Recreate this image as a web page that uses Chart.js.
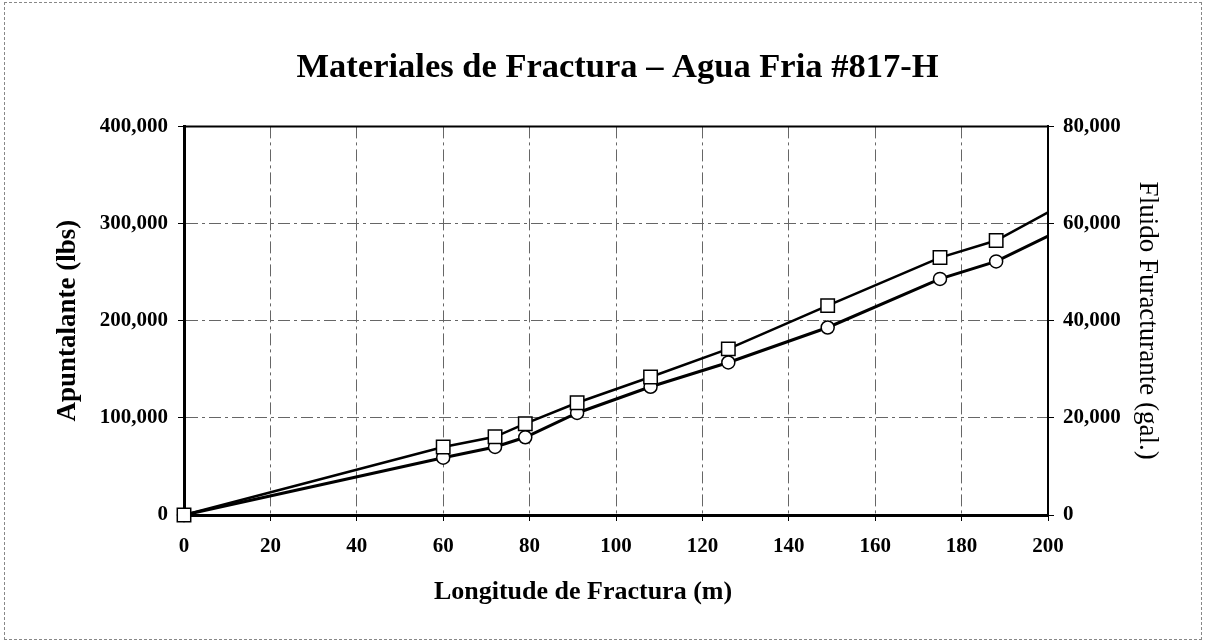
<!DOCTYPE html>
<html>
<head>
<meta charset="utf-8">
<title>Materiales de Fractura</title>
<script src="https://cdn.jsdelivr.net/npm/chart.js@4.4.1/dist/chart.umd.min.js"></script>
<style>
  body { margin: 0; background: #fff; }
  .wrap { position: relative; width: 1205px; height: 643px; }
  .frame {
    position: absolute; left: 4px; top: 2px; width: 1196px; height: 636px;
    border: 1px dashed #888; pointer-events: none;
  }
</style>
</head>
<body>
<div class="wrap">
  <canvas id="chart" width="1205" height="643"></canvas>
  <div class="frame"></div>
</div>
<script>
// Longitud de fractura (m)
const longitud = [0, 60, 72, 79, 91, 108, 126, 149, 175, 188, 200];
// Apuntalante (lbs) - circulos, eje izquierdo
const apuntalante = [0, 59000, 70000, 80000, 105000, 132000, 157000, 193000, 243000, 261000, 287000];
// Fluido fracturante (gal.) - cuadrados, eje derecho
const fluido = [0, 14000, 16100, 18800, 23100, 28400, 34200, 43100, 53000, 56500, 62300];

const xTicks = [0, 20, 40, 60, 80, 100, 120, 140, 160, 180, 200];
const leftTicks = [0, 100000, 200000, 300000, 400000];
const rightTicks = [0, 20000, 40000, 60000, 80000];

const serif = "'Liberation Serif', 'Times New Roman', serif";
const tickFont = { family: serif, size: 21, weight: "bold" };
const gridDash = [12, 4, 3, 4];

function toPoints(values) {
  return longitud.map((x, i) => ({ x: x, y: values[i] }));
}

// no marker on the last point (hidden at the right axis)
function radii(r) {
  return longitud.map((x, i) => (i === longitud.length - 1 ? 0 : r));
}

function innerGrid(ctx) {
  const v = ctx.tick ? ctx.tick.value : null;
  const s = ctx.scale;
  if (v === s.min || v === s.max) return "rgba(0,0,0,0)";
  return "#666";
}

const extras = {
  id: "extras",
  afterDraw(chart) {
    const { ctx, chartArea } = chart;
    ctx.save();
    // top frame of plot area
    ctx.strokeStyle = "#000";
    ctx.lineWidth = 2;
    ctx.beginPath();
    ctx.moveTo(chartArea.left, chartArea.top);
    ctx.lineTo(chartArea.right, chartArea.top);
    ctx.stroke();
    // x axis title
    ctx.fillStyle = "#000";
    ctx.font = "bold 26px " + serif;
    ctx.textAlign = "center";
    ctx.textBaseline = "middle";
    const cx = (chartArea.left + chartArea.right) / 2 - 33;
    ctx.fillText("Longitude de Fractura (m)", cx, chartArea.bottom + 77);
    ctx.restore();
  }
};

new Chart(document.getElementById("chart"), {
  type: "line",
  data: {
    datasets: [
      {
        label: "Fluido Furacturante (gal.)",
        data: toPoints(fluido),
        yAxisID: "yRight",
        borderColor: "#000",
        borderWidth: 2.5,
        pointStyle: "rect",
        pointRadius: radii(9.5),
        pointBackgroundColor: "#fff",
        pointBorderColor: "#000",
        pointBorderWidth: 1.5,
        tension: 0,
        clip: false
      },
      {
        label: "Apuntalante (lbs)",
        data: toPoints(apuntalante),
        yAxisID: "yLeft",
        borderColor: "#000",
        borderWidth: 3,
        pointStyle: "circle",
        pointRadius: radii(6.5),
        pointBackgroundColor: "#fff",
        pointBorderColor: "#000",
        pointBorderWidth: 1.5,
        tension: 0,
        clip: false
      }
    ]
  },
  options: {
    responsive: false,
    animation: false,
    layout: { padding: { left: 30, right: 0, top: 0, bottom: 0 } },
    plugins: {
      legend: { display: false },
      tooltip: { enabled: false },
      title: {
        display: true,
        text: "Materiales de Fractura \u2013 Agua Fria #817-H",
        color: "#000",
        font: { family: serif, size: 34.5, weight: "bold" },
        padding: { top: 47, bottom: 38 }
      }
    },
    scales: {
      x: {
        type: "linear",
        min: 0,
        max: 200,
        afterBuildTicks(scale) { scale.ticks = xTicks.map((v) => ({ value: v })); },
        afterFit(scale) { scale.height = 128; },
        border: { display: true, color: "#000", width: 3, dash: gridDash },
        grid: {
          color: innerGrid,
          lineWidth: 1,
          tickColor: "#000",
          tickLength: 6,
          tickBorderDash: []
        },
        ticks: { color: "#000", font: tickFont, padding: 13, maxRotation: 0 }
      },
      yLeft: {
        type: "linear",
        position: "left",
        min: 0,
        max: 400000,
        afterBuildTicks(scale) { scale.ticks = leftTicks.map((v) => ({ value: v })); },
        afterFit(scale) { scale.width = 154; },
        border: { display: true, color: "#000", width: 3, dash: gridDash },
        grid: {
          color: innerGrid,
          lineWidth: 1,
          tickColor: "#000",
          tickLength: 6,
          tickBorderDash: []
        },
        ticks: {
          color: "#000",
          font: tickFont,
          padding: 10,
          callback: (v) => v.toLocaleString("en-US")
        },
        title: {
          display: true,
          text: "Apuntalante (lbs)",
          color: "#000",
          font: { family: serif, size: 27, weight: "bold" },
          padding: { top: 22, bottom: 0 }
        }
      },
      yRight: {
        type: "linear",
        position: "right",
        min: 0,
        max: 80000,
        afterBuildTicks(scale) { scale.ticks = rightTicks.map((v) => ({ value: v })); },
        afterFit(scale) { scale.width = 157; },
        border: { display: true, color: "#000", width: 2 },
        grid: {
          drawOnChartArea: false,
          tickColor: "#000",
          tickLength: 6
        },
        ticks: {
          color: "#000",
          font: tickFont,
          padding: 9,
          callback: (v) => v.toLocaleString("en-US")
        },
        title: {
          display: true,
          text: "Fluido Furacturante (gal.)",
          color: "#000",
          font: { family: serif, size: 27, weight: "normal" },
          padding: { top: 42, bottom: 0 }
        }
      }
    }
  },
  plugins: [extras]
});
</script>
</body>
</html>
